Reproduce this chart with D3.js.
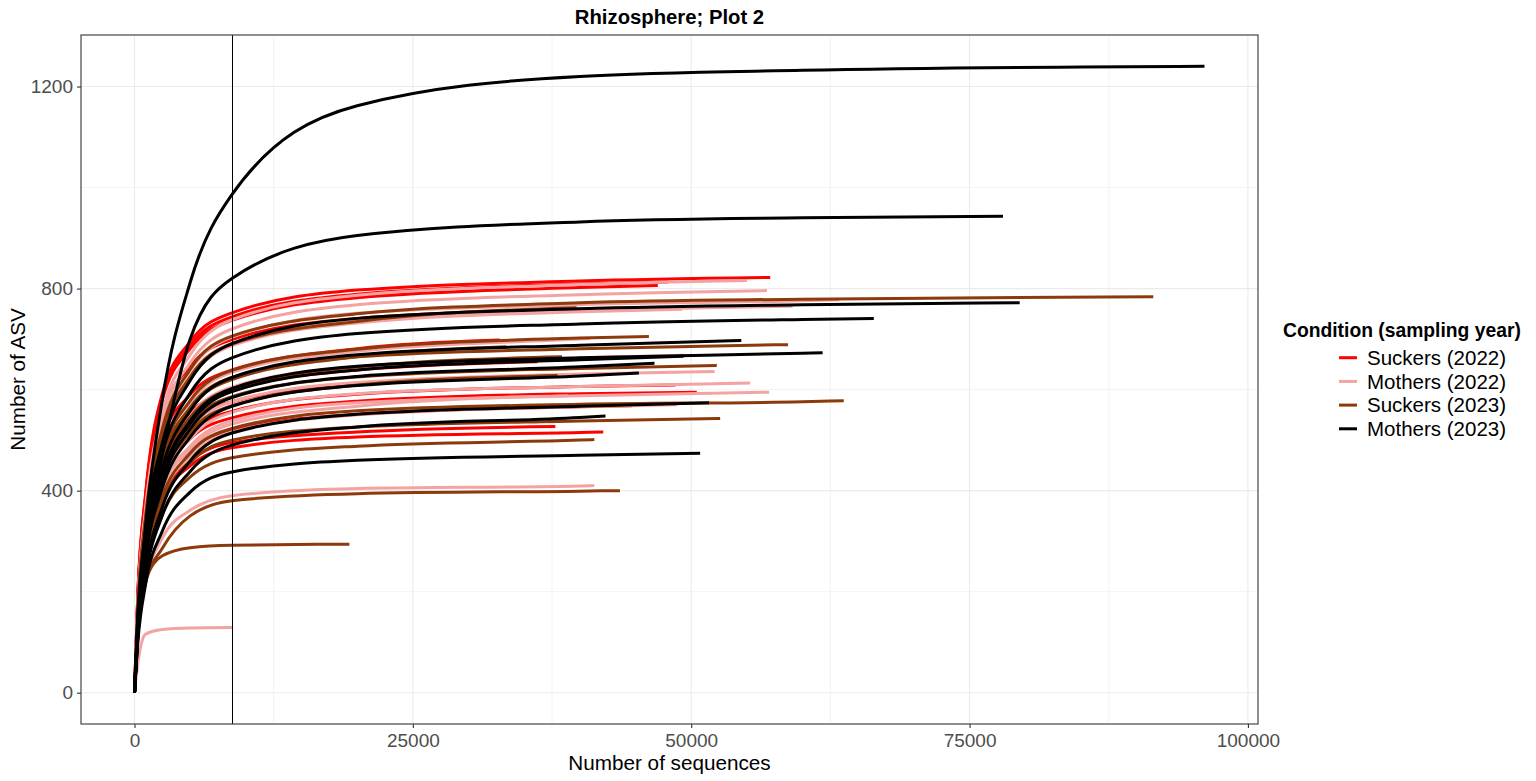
<!DOCTYPE html>
<html><head><meta charset="utf-8">
<script src="https://cdn.jsdelivr.net/npm/d3@7"></script>
<style>
body{margin:0;background:#fff;}
svg{display:block;font-family:"Liberation Sans",Arial,Helvetica,sans-serif;}
</style>
</head><body>
<svg id="chart" width="1536" height="781"></svg>
<script>
// ---------------- data ----------------
const groups = ["Suckers (2022)", "Mothers (2022)", "Suckers (2023)", "Mothers (2023)"];
const groupColors = ["#FF0000", "#F4A3A3", "#8C3A0C", "#000000"];
const depthSteps = [0, 300, 1000, 2500, 5000, 8750, 20000, 40000, 60000]; // read positions (+ sample depth)
const xTicks = [0, 25000, 50000, 75000, 100000];
const yTicks = [0, 400, 800, 1200];
const xMinorTicks = [12500, 37500, 62500, 87500];
const yMinorTicks = [200, 600, 1000];
const rarefyDepth = 8750;

const suckers2022Depth = [57100, 47900, 47000, 51800, 32800, 36200, 42200, 48600, 50500, 44700, 37800, 42100];
const suckers2022Asv = [
  [0,197,395,592,695,752,797,815,822],
  [0,195,390,585,687,744,789,809,813],
  [0,193,387,580,681,737,782,802,806],
  [0,183,367,550,646,699,741,759,764],
  [0,168,335,503,590,639,681,698],
  [0,157,314,472,553,599,639,655],
  [0,151,302,454,532,576,611,628,630],
  [0,146,292,438,515,557,591,606,609],
  [0,143,286,428,503,544,577,592,595],
  [0,136,273,409,480,520,551,566,568],
  [0,132,264,390,458,495,516,527],
  [0,129,258,382,449,485,506,515,516]
];

const mothers2022Depth = [55000, 56800, 63300, 59100, 49200, 40900, 49400, 52100, 55300, 57000, 38900, 48700, 41300, 8750];
const mothers2022Asv = [
  [0,180,367,555,669,738,787,808,816],
  [0,175,358,541,653,720,768,788,796],
  [0,171,350,529,638,704,751,768,776,778],
  [0,168,344,520,627,692,738,756,765],
  [0,167,342,516,622,687,732,754,759],
  [0,154,315,477,575,634,676,700,701],
  [0,147,301,454,548,605,645,663,668],
  [0,140,286,432,522,576,614,631,636],
  [0,135,276,417,503,555,592,606,613],
  [0,131,268,405,488,538,574,588,595],
  [0,129,265,400,482,532,567,588],
  [0,125,257,388,467,516,550,566,570],
  [0,123,218,306,361,390,404,409,410],
  [0,58,116,125,128,129]
];

const suckers2023Depth = [91500, 39700, 46200, 58700, 33400, 38400, 52300, 38000, 63700, 52600, 41300, 43600, 19300];
const suckers2023Asv = [
  [0,170,350,522,640,706,750,772,779,784],
  [0,168,343,511,625,690,735,762],
  [0,155,317,472,578,638,680,702,705],
  [0,152,310,462,565,624,665,681,689],
  [0,151,308,459,562,620,665,685],
  [0,146,299,446,545,602,645,665],
  [0,143,292,434,531,586,625,642,648],
  [0,138,283,421,515,568,609,628],
  [0,127,260,387,474,523,558,571,576,578],
  [0,125,255,375,455,500,526,538,543],
  [0,120,240,352,427,465,488,500,501],
  [0,118,218,286,350,380,394,399,400],
  [0,120,222,271,287,292,294]
];

const mothers2023Depth = [96100, 78000, 79500, 66400, 54500, 61800, 49300, 46700, 45300, 51600, 42300, 50800];
const mothers2023Asv = [
  [0,130,330,580,812,986,1162,1220,1232,1240],
  [0,110,290,470,700,820,905,932,940,943],
  [0,154,324,494,618,691,741,760,768,772],
  [0,148,311,474,593,663,711,730,739,741],
  [0,139,293,446,558,624,669,688,697],
  [0,135,283,431,538,602,646,663,672,673],
  [0,133,280,426,533,596,639,659,666],
  [0,130,274,417,522,584,626,645,652],
  [0,127,266,405,506,567,608,627,633],
  [0,115,241,367,459,514,551,567,574],
  [0,110,230,351,438,490,526,545,548],
  [0,100,215,320,397,437,460,470,474]
];

const groupDepths = [suckers2022Depth, mothers2022Depth, suckers2023Depth, mothers2023Depth];
const groupAsv = [suckers2022Asv, mothers2022Asv, suckers2023Asv, mothers2023Asv];

// build curves
const curves = [];
groups.forEach((g, gi) => {
  groupDepths[gi].forEach((d, i) => {
    const xs = depthSteps.filter(s => s < d).concat([d]);
    const ys = groupAsv[gi][i];
    const n = Math.min(xs.length, ys.length);
    const pts = [];
    for (let k = 0; k < n; k++) pts.push([xs[k], ys[k]]);
    curves.push({group: gi, pts});
  });
});

// ---------------- layout ----------------
const svg = d3.select("#chart");
const P = {left: 81, right: 1258, top: 35, bottom: 724};
const maxDepth = d3.max(curves, c => d3.max(c.pts, p => p[0]));
const maxAsv = d3.max(curves, c => d3.max(c.pts, p => p[1]));
const minAsv = 0;
const x = d3.scaleLinear()
  .domain([-0.05 * maxDepth, maxDepth * 1.05])
  .range([P.left, P.right]);
const y = d3.scaleLinear()
  .domain([minAsv - 0.05 * (maxAsv - minAsv), maxAsv + 0.05 * (maxAsv - minAsv)])
  .range([P.bottom, P.top]);

svg.append("rect").attr("x",0).attr("y",0).attr("width",1536).attr("height",781).attr("fill","#fff");

// grid
const grid = svg.append("g");
grid.selectAll(".xmin").data(xMinorTicks).join("line")
  .attr("x1", d => x(d)).attr("x2", d => x(d)).attr("y1", P.top).attr("y2", P.bottom)
  .attr("stroke", "#EBEBEB").attr("stroke-width", 0.6);
grid.selectAll(".ymin").data(yMinorTicks).join("line")
  .attr("y1", d => y(d)).attr("y2", d => y(d)).attr("x1", P.left).attr("x2", P.right)
  .attr("stroke", "#EBEBEB").attr("stroke-width", 0.6);
grid.selectAll(".xmaj").data(xTicks).join("line")
  .attr("x1", d => x(d)).attr("x2", d => x(d)).attr("y1", P.top).attr("y2", P.bottom)
  .attr("stroke", "#EBEBEB").attr("stroke-width", 1.1);
grid.selectAll(".ymaj").data(yTicks).join("line")
  .attr("y1", d => y(d)).attr("y2", d => y(d)).attr("x1", P.left).attr("x2", P.right)
  .attr("stroke", "#EBEBEB").attr("stroke-width", 1.1);

// clip
svg.append("clipPath").attr("id","clip").append("rect")
  .attr("x", P.left).attr("y", P.top).attr("width", P.right - P.left).attr("height", P.bottom - P.top);

const line = d3.line().x(d => x(d[0])).y(d => y(d[1])).curve(d3.curveMonotoneX);
const plot = svg.append("g").attr("clip-path", "url(#clip)");
plot.selectAll("path.curve").data(curves).join("path")
  .attr("class","curve")
  .attr("d", c => line(c.pts))
  .attr("fill","none")
  .attr("stroke", c => groupColors[c.group])
  .attr("stroke-width", 3);

// vertical rarefaction line
const vx = Math.round(x(rarefyDepth)) + 0.5;
plot.append("line")
  .attr("x1", vx).attr("x2", vx)
  .attr("y1", P.top).attr("y2", P.bottom)
  .attr("stroke", "#000").attr("stroke-width", 1)
  .attr("shape-rendering","crispEdges");

// panel border
svg.append("rect").attr("x", P.left).attr("y", P.top)
  .attr("width", P.right - P.left).attr("height", P.bottom - P.top)
  .attr("fill","none").attr("stroke","#333333").attr("stroke-width",1.1);

// axes
const xAxis = svg.append("g").attr("transform", `translate(0,${P.bottom})`)
  .call(d3.axisBottom(x).tickValues(xTicks).tickSize(4).tickPadding(6).tickFormat(d3.format("d")));
const yAxis = svg.append("g").attr("transform", `translate(${P.left},0)`)
  .call(d3.axisLeft(y).tickValues(yTicks).tickSize(4).tickPadding(4).tickFormat(d3.format("d")));
[xAxis, yAxis].forEach(a => {
  a.select(".domain").remove();
  a.selectAll(".tick line").attr("stroke","#333333").attr("stroke-width",1.1);
  a.selectAll(".tick text").attr("fill","#4D4D4D").style("font-size","19px")
    .style("font-family",'"Liberation Sans",Arial,sans-serif');
});

// titles
svg.append("text").attr("x", (P.left + P.right) / 2).attr("y", 24)
  .attr("text-anchor","middle").style("font-weight","bold").style("font-size","20.3px")
  .attr("fill","#000").text("Rhizosphere; Plot 2");
svg.append("text").attr("x", (P.left + P.right) / 2).attr("y", 770)
  .attr("text-anchor","middle").style("font-size","20.7px").attr("fill","#000")
  .text("Number of sequences");
svg.append("text").attr("transform", `translate(25,${(P.top + P.bottom) / 2}) rotate(-90)`)
  .attr("text-anchor","middle").style("font-size","20.7px").attr("fill","#000")
  .text("Number of ASV");

// legend
const lg = svg.append("g");
lg.append("text").attr("x", 1283).attr("y", 337)
  .style("font-weight","bold").style("font-size","19.3px").attr("fill","#000")
  .text("Condition (sampling year)");
groups.forEach((g, i) => {
  const ky = 357.7 + i * 23.7;
  lg.append("line").attr("x1", 1339).attr("x2", 1357).attr("y1", ky).attr("y2", ky)
    .attr("stroke", groupColors[i]).attr("stroke-width", 3);
  lg.append("text").attr("x", 1367).attr("y", ky + 7.3)
    .style("font-size","20.5px").attr("fill","#000").text(g);
});
</script>
</body></html>
